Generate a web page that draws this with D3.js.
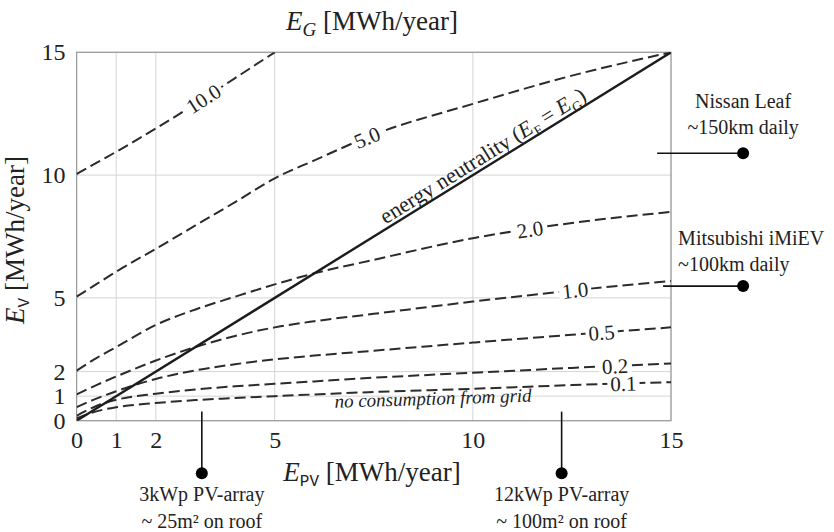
<!DOCTYPE html>
<html>
<head><meta charset="utf-8"></head>
<body style="margin:0">
<script src="https://d3js.org/d3.v7.min.js"></script>
<script>
// ticks
var xTicks = [0, 1, 2, 5, 10, 15];
var yTicks = [0, 1, 2, 5, 10, 15];

// E_PV sample points [MWh/year]
var epv = [0, 0.5, 1, 2, 3, 4, 5, 6, 7.5, 10, 12.5, 15];

// E_V along each constant-E_G curve
var ev10 = [10.04, 10.5, 10.95, 11.9, 12.9, 13.95, 15.0];
var ev5  = [5.05, 5.56, 6.07, 7.0, 7.95, 8.9, 9.87, 10.6, 11.65, 12.9, 14.05, 15.0];
var ev2  = [2.04, 2.55, 3.0, 3.9, 4.53, 5.05, 5.55, 6.0, 6.55, 7.43, 8.05, 8.5];
var ev1  = [1.07, 1.45, 1.8, 2.45, 3.0, 3.45, 3.8, 4.05, 4.35, 4.85, 5.3, 5.69];
var ev05 = [0.55, 0.9, 1.2, 1.7, 2.05, 2.3, 2.5, 2.65, 2.85, 3.18, 3.5, 3.8];
var ev02 = [0.2, 0.6, 0.85, 1.1, 1.27, 1.4, 1.5, 1.6, 1.75, 1.95, 2.15, 2.33];
var ev01 = [0.1, 0.38, 0.55, 0.72, 0.84, 0.92, 1.0, 1.07, 1.17, 1.3, 1.45, 1.57];

var gridLabels = ["10.0", "5.0", "2.0", "1.0", "0.5", "0.2", "0.1"];
var curves = [ev10, ev5, ev2, ev1, ev05, ev02, ev01];
// where along E_PV each label sits
var labelAt = [3.2, 7.33, 11.44, 12.58, 13.25, 13.59, 13.8];

var W = 834, H = 532;
var pL = 76.6, pR = 671, pT = 52.3, pB = 420.7;
var SERIF = "'Liberation Serif'", MONO = "'Liberation Mono'";

var x = d3.scaleLinear().domain([0, 15]).range([pL, pR]);
var y = d3.scaleLinear().domain([0, 15]).range([pB, pT]);

var svg = d3.select("body").append("svg")
    .attr("width", W)
    .attr("height", H)
    .attr("font-family", SERIF);

svg.append("defs").append("clipPath").attr("id", "plot")
  .append("rect")
    .attr("x", pL).attr("y", pT)
    .attr("width", pR - pL).attr("height", pB - pT);

// grid
svg.append("g")
  .selectAll("line").data(xTicks).enter().append("line")
    .attr("x1", function(d) { return x(d); }).attr("x2", function(d) { return x(d); })
    .attr("y1", pT).attr("y2", pB)
    .attr("stroke", "#d4d4d4");
svg.append("g")
  .selectAll("line").data(yTicks).enter().append("line")
    .attr("x1", pL).attr("x2", pR)
    .attr("y1", function(d) { return y(d); }).attr("y2", function(d) { return y(d); })
    .attr("stroke", "#d4d4d4");

// axes (labels only)
var xAxis = svg.append("g")
    .attr("transform", "translate(0," + pB + ")")
    .call(d3.axisBottom(x).tickValues(xTicks).tickSize(0).tickPadding(10).tickFormat(d3.format("d")));
var yAxis = svg.append("g")
    .attr("transform", "translate(" + pL + ",0)")
    .call(d3.axisLeft(y).tickValues(yTicks).tickSize(0).tickPadding(11).tickFormat(d3.format("d")));
[xAxis, yAxis].forEach(function(a) {
  a.attr("font-family", SERIF).attr("font-size", 24);
  a.select(".domain").remove();
  a.selectAll("text").attr("fill", "#222");
});

// frame
svg.append("rect")
    .attr("x", pL).attr("y", pT)
    .attr("width", pR - pL).attr("height", pB - pT)
    .attr("fill", "none").attr("stroke", "#999").attr("stroke-width", 1.2);

var line = d3.line()
    .x(function(d) { return x(d[0]); })
    .y(function(d) { return y(d[1]); })
    .curve(d3.curveMonotoneX);

var plot = svg.append("g").attr("clip-path", "url(#plot)");

function pts(vals) {
  return vals.map(function(v, i) { return [epv[i], v]; });
}
function interp(vals, px) {
  for (var i = 1; i < vals.length; i++) {
    if (epv[i] >= px) {
      var t = (px - epv[i - 1]) / (epv[i] - epv[i - 1]);
      return vals[i - 1] + t * (vals[i] - vals[i - 1]);
    }
  }
  return vals[vals.length - 1];
}

curves.forEach(function(vals) {
  plot.append("path").datum(pts(vals))
      .attr("fill", "none").attr("stroke", "#2b2b2b")
      .attr("stroke-width", 2).attr("stroke-dasharray", "11,5")
      .attr("d", line);
});

// energy neutrality line
plot.append("path")
    .datum([[0, 0], [15, 15]])
    .attr("fill", "none").attr("stroke", "#1c1c1c").attr("stroke-width", 2.4)
    .attr("d", line);

// contour labels
curves.forEach(function(vals, i) {
  var lx = labelAt[i];
  var ly = interp(vals, lx);
  var a = interp(vals, lx - 0.3), b = interp(vals, lx + 0.3);
  var ang = Math.atan2(y(b) - y(a), x(lx + 0.3) - x(lx - 0.3)) * 180 / Math.PI;
  var g = svg.append("g").attr("transform", "translate(" + x(lx) + "," + y(ly) + ") rotate(" + ang + ")");
  var t = g.append("text")
      .attr("text-anchor", "middle")
      .attr("dy", "0.35em")
      .attr("font-family", SERIF)
      .attr("font-size", 21)
      .attr("fill", "#222")
      .text(gridLabels[i]);
  var w = t.node().getComputedTextLength();
  g.insert("rect", "text")
      .attr("x", -w / 2 - 3).attr("y", -8)
      .attr("width", w + 6).attr("height", 16)
      .attr("fill", "#fff");
});

// energy neutrality label
var nAng = Math.atan2(y(11) - y(10), x(11) - x(10)) * 180 / Math.PI;
var nt = svg.append("text")
    .attr("transform", "translate(" + x(10.4) + "," + y(10.4) + ") rotate(" + nAng + ") translate(0,-4)")
    .attr("text-anchor", "middle")
    .attr("font-size", 22);
nt.append("tspan").text("energy neutrality (");
nt.append("tspan").attr("font-style", "italic").text("E");
nt.append("tspan").attr("dy", 5).attr("font-size", 14).text("F");
nt.append("tspan").attr("dy", -5).text(" = ");
nt.append("tspan").attr("font-style", "italic").text("E");
nt.append("tspan").attr("dy", 5).attr("font-size", 14).text("G");
nt.append("tspan").attr("dy", -5).text(")");

// no consumption text
svg.append("text")
    .attr("transform", "translate(" + x(9.0) + "," + y(0.65) + ") rotate(-1.8)")
    .attr("text-anchor", "middle")
    .attr("font-size", 19).attr("font-style", "italic")
    .text("no consumption from grid");

// axis titles
var tt = svg.append("text").attr("x", 372).attr("y", 30)
    .attr("text-anchor", "middle").attr("font-size", 27);
tt.append("tspan").attr("font-style", "italic").text("E");
tt.append("tspan").attr("dy", 6).attr("font-size", 19).attr("font-style", "italic").text("G");
tt.append("tspan").attr("dy", -6).text(" [MWh/year]");

var bt = svg.append("text").attr("x", 372).attr("y", 481)
    .attr("text-anchor", "middle").attr("font-size", 27);
bt.append("tspan").attr("font-style", "italic").text("E");
bt.append("tspan").attr("dy", 5).attr("font-family", MONO).attr("font-size", 16).text("PV");
bt.append("tspan").attr("dy", -5).text(" [MWh/year]");

var lt = svg.append("text").attr("transform", "translate(24,240) rotate(-90)")
    .attr("text-anchor", "middle").attr("font-size", 27);
lt.append("tspan").attr("font-style", "italic").text("E");
lt.append("tspan").attr("dy", 5).attr("font-family", MONO).attr("font-size", 16).text("V");
lt.append("tspan").attr("dy", -5).text(" [MWh/year]");

// annotations: cars (E_V) and PV arrays (E_PV)
var cars = [
  { name: "Nissan Leaf", dist: "~150km daily", ev: 10.89, from: 14.65, anchor: "middle" },
  { name: "Mitsubishi iMiEV", dist: "~100km daily", ev: 5.48, from: 14.8, anchor: "start" }
];
var arrays = [
  { name: "3kWp PV-array", area: "~ 25m\u00b2 on roof", pv: 3.16 },
  { name: "12kWp PV-array", area: "~ 100m\u00b2 on roof", pv: 12.24 }
];
var dotX = 16.82, dotY = -2.14;

cars.forEach(function(c) {
  svg.append("line")
      .attr("x1", x(c.from)).attr("x2", x(dotX))
      .attr("y1", y(c.ev)).attr("y2", y(c.ev))
      .attr("stroke", "#111").attr("stroke-width", 1.6);
  svg.append("circle").attr("cx", x(dotX)).attr("cy", y(c.ev)).attr("r", 6).attr("fill", "#000");
  var tx = c.anchor === "middle" ? x(dotX) : x(dotX) - 65;
  var lift = c.anchor === "middle" ? 45 : 41;
  svg.append("text").attr("x", tx).attr("y", y(c.ev) - lift)
      .attr("text-anchor", c.anchor).attr("font-size", 20).text(c.name);
  svg.append("text").attr("x", tx).attr("y", y(c.ev) - lift + 26)
      .attr("text-anchor", c.anchor).attr("font-size", 20).text(c.dist);
});

arrays.forEach(function(p) {
  svg.append("line")
      .attr("x1", x(p.pv)).attr("x2", x(p.pv))
      .attr("y1", y(0.37)).attr("y2", y(dotY))
      .attr("stroke", "#111").attr("stroke-width", 1.6);
  svg.append("circle").attr("cx", x(p.pv)).attr("cy", y(dotY)).attr("r", 6).attr("fill", "#000");
  svg.append("text").attr("x", x(p.pv)).attr("y", y(dotY) + 28)
      .attr("text-anchor", "middle").attr("font-size", 20).text(p.name);
  svg.append("text").attr("x", x(p.pv)).attr("y", y(dotY) + 55)
      .attr("text-anchor", "middle").attr("font-size", 20).text(p.area);
});

svg.selectAll("text").filter(function() { return !this.getAttribute("font-family"); })
    .attr("font-family", SERIF);
svg.selectAll("text").filter(function() { return !this.getAttribute("fill"); })
    .attr("fill", "#222");
</script>
</body>
</html>
